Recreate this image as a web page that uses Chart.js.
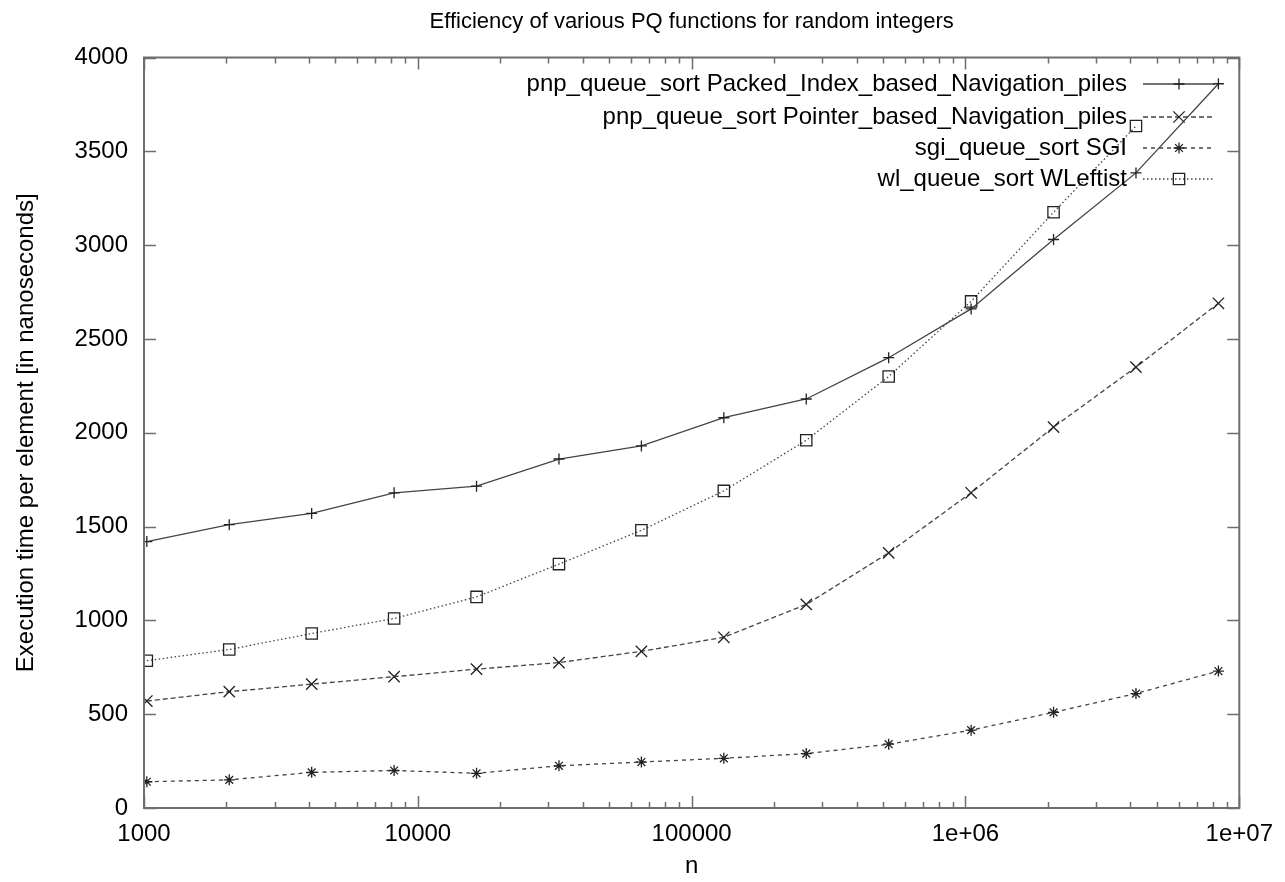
<!DOCTYPE html>
<html>
<head>
<meta charset="utf-8">
<title>Efficiency of various PQ functions</title>
<script src="https://cdn.jsdelivr.net/npm/chart.js@4.4.0/dist/chart.umd.min.js"></script>
<style>
  html, body { margin: 0; padding: 0; background: #fff; }
  #chart { display: block; }
</style>
</head>
<body>
<canvas id="chart" width="1285" height="882"></canvas>
<script>
const sizes = [1024, 2048, 4096, 8192, 16384, 32768, 65536, 131072, 262144, 524288, 1048576, 2097152, 4194304, 8388608];
const packedIndex = [1420, 1510, 1570, 1680, 1715, 1860, 1930, 2080, 2180, 2400, 2660, 3030, 3385, 3860];
const pointerBased = [570, 620, 660, 700, 740, 775, 835, 910, 1085, 1360, 1680, 2030, 2350, 2690];
const sgi = [140, 150, 190, 200, 185, 225, 245, 265, 290, 340, 415, 510, 610, 730];
const wLeftist = [785, 845, 930, 1010, 1125, 1300, 1480, 1690, 1960, 2300, 2700, 3175, 3635];

const seriesNames = [
    'pnp_queue_sort Packed_Index_based_Navigation_piles',
    'pnp_queue_sort Pointer_based_Navigation_piles',
    'sgi_queue_sort SGI',
    'wl_queue_sort WLeftist',
];
const xTickValues = [1e3, 1e4, 1e5, 1e6, 1e7];
const xTickLabels = ['1000', '10000', '100000', '1e+06', '1e+07'];

const FONT = '"Liberation Sans", Arial, sans-serif';
const LINE = '#444';
const MARK = '#222';
const FRAME = '#6e6e6e';

const toPoints = (vals) => vals.map((v, i) => ({ x: sizes[i], y: v }));

const styles = [
    { pointStyle: 'cross', radius: 5.5, dash: [] },
    { pointStyle: 'crossRot', radius: 8, dash: [5, 3] },
    { pointStyle: 'star', radius: 5.5, dash: [4, 4] },
    { pointStyle: 'rect', radius: 8, dash: [1.5, 2.5] },
];

const allSeries = [packedIndex, pointerBased, sgi, wLeftist];

const datasets = allSeries.map((vals, i) => ({
    label: seriesNames[i],
    data: toPoints(vals),
    borderColor: LINE,
    borderWidth: 1.3,
    borderDash: styles[i].dash,
    pointStyle: styles[i].pointStyle,
    pointRadius: styles[i].radius,
    pointHoverRadius: styles[i].radius,
    pointBorderColor: MARK,
    pointBorderWidth: 1.3,
    pointBackgroundColor: 'rgba(0,0,0,0)',
    tension: 0,
    fill: false,
}));

// legend marker, same shapes as the chart's points
function drawMarker(ctx, style, x, y, r) {
    ctx.beginPath();
    if (style === 'cross' || style === 'star') {
        ctx.moveTo(x - r, y); ctx.lineTo(x + r, y);
        ctx.moveTo(x, y - r); ctx.lineTo(x, y + r);
    }
    if (style === 'crossRot' || style === 'star') {
        const d = r * Math.SQRT1_2;
        ctx.moveTo(x - d, y - d); ctx.lineTo(x + d, y + d);
        ctx.moveTo(x - d, y + d); ctx.lineTo(x + d, y - d);
    }
    if (style === 'rect') {
        const s = r * Math.SQRT1_2;
        ctx.rect(x - s, y - s, 2 * s, 2 * s);
    }
    ctx.stroke();
}

const gnuplotFrame = {
    id: 'gnuplotFrame',
    afterDraw(chart) {
        const { ctx, chartArea: a, scales } = chart;
        const xs = scales.x, ys = scales.y;
        ctx.save();

        // border
        ctx.strokeStyle = FRAME;
        ctx.lineWidth = 2;
        ctx.setLineDash([]);
        ctx.strokeRect(a.left, a.top, a.right - a.left, a.bottom - a.top);

        // x ticks, major and minor, bottom and top
        ctx.lineWidth = 1.5;
        ctx.beginPath();
        for (let d = 1e3; d <= 1e7; d *= 10) {
            for (let m = 1; m <= 9; m++) {
                const v = d * m;
                if (v > 1e7) break;
                const px = Math.round(xs.getPixelForValue(v)) + 0.5;
                const len = m === 1 ? 12 : 6;
                ctx.moveTo(px, a.bottom); ctx.lineTo(px, a.bottom - len);
                ctx.moveTo(px, a.top); ctx.lineTo(px, a.top + len);
            }
        }
        // y ticks left and right
        ys.ticks.forEach(t => {
            const py = Math.round(ys.getPixelForValue(t.value)) + 0.5;
            ctx.moveTo(a.left, py); ctx.lineTo(a.left + 12, py);
            ctx.moveTo(a.right, py); ctx.lineTo(a.right - 12, py);
        });
        ctx.stroke();

        // legend, top right inside the plot
        const rows = [84, 117, 148, 179];
        ctx.font = '24px ' + FONT;
        ctx.fillStyle = '#000';
        ctx.textAlign = 'right';
        ctx.textBaseline = 'middle';
        chart.data.datasets.forEach((ds, i) => {
            const y = rows[i];
            ctx.fillText(ds.label, 1127, y);
            ctx.strokeStyle = LINE;
            ctx.lineWidth = 1.3;
            ctx.setLineDash(ds.borderDash);
            ctx.beginPath();
            ctx.moveTo(1143, y); ctx.lineTo(1215, y);
            ctx.stroke();
            ctx.setLineDash([]);
            ctx.strokeStyle = MARK;
            drawMarker(ctx, ds.pointStyle, 1179, y, ds.pointRadius);
        });

        // titles
        const cx = (a.left + a.right) / 2;
        ctx.textAlign = 'center';
        ctx.font = '22px ' + FONT;
        ctx.fillText('Efficiency of various PQ functions for random integers', cx, 22);
        ctx.font = '24px ' + FONT;
        ctx.fillText('n', cx, 866);
        ctx.translate(26, (a.top + a.bottom) / 2);
        ctx.rotate(-Math.PI / 2);
        ctx.fillText('Execution time per element [in nanoseconds]', 0, 0);
        ctx.restore();
    }
};

new Chart(document.getElementById('chart'), {
    type: 'line',
    data: { datasets },
    options: {
        responsive: false,
        animation: false,
        events: [],
        layout: { padding: { top: 57.5, right: 41, left: 0, bottom: 0 } },
        plugins: {
            legend: { display: false },
            tooltip: { enabled: false },
            title: { display: false },
        },
        scales: {
            x: {
                type: 'logarithmic',
                min: 1000,
                max: 1e7,
                afterBuildTicks: (s) => { s.ticks = xTickValues.map(v => ({ value: v })); },
                afterFit: (s) => { s.height = 74; },
                grid: { display: false, drawTicks: false },
                border: { display: false },
                ticks: {
                    autoSkip: false,
                    maxRotation: 0,
                    padding: 12,
                    color: '#000',
                    font: { family: FONT, size: 24 },
                    callback: (v) => {
                        const i = xTickValues.indexOf(v);
                        return i >= 0 ? xTickLabels[i] : '';
                    },
                },
            },
            y: {
                min: 0,
                max: 4000,
                afterFit: (s) => { s.width = 144; },
                grid: { display: false, drawTicks: false },
                border: { display: false },
                ticks: {
                    stepSize: 500,
                    padding: 16,
                    color: '#000',
                    font: { family: FONT, size: 24 },
                    callback: (v) => String(v),
                },
            },
        },
    },
    plugins: [gnuplotFrame],
});
</script>
</body>
</html>
